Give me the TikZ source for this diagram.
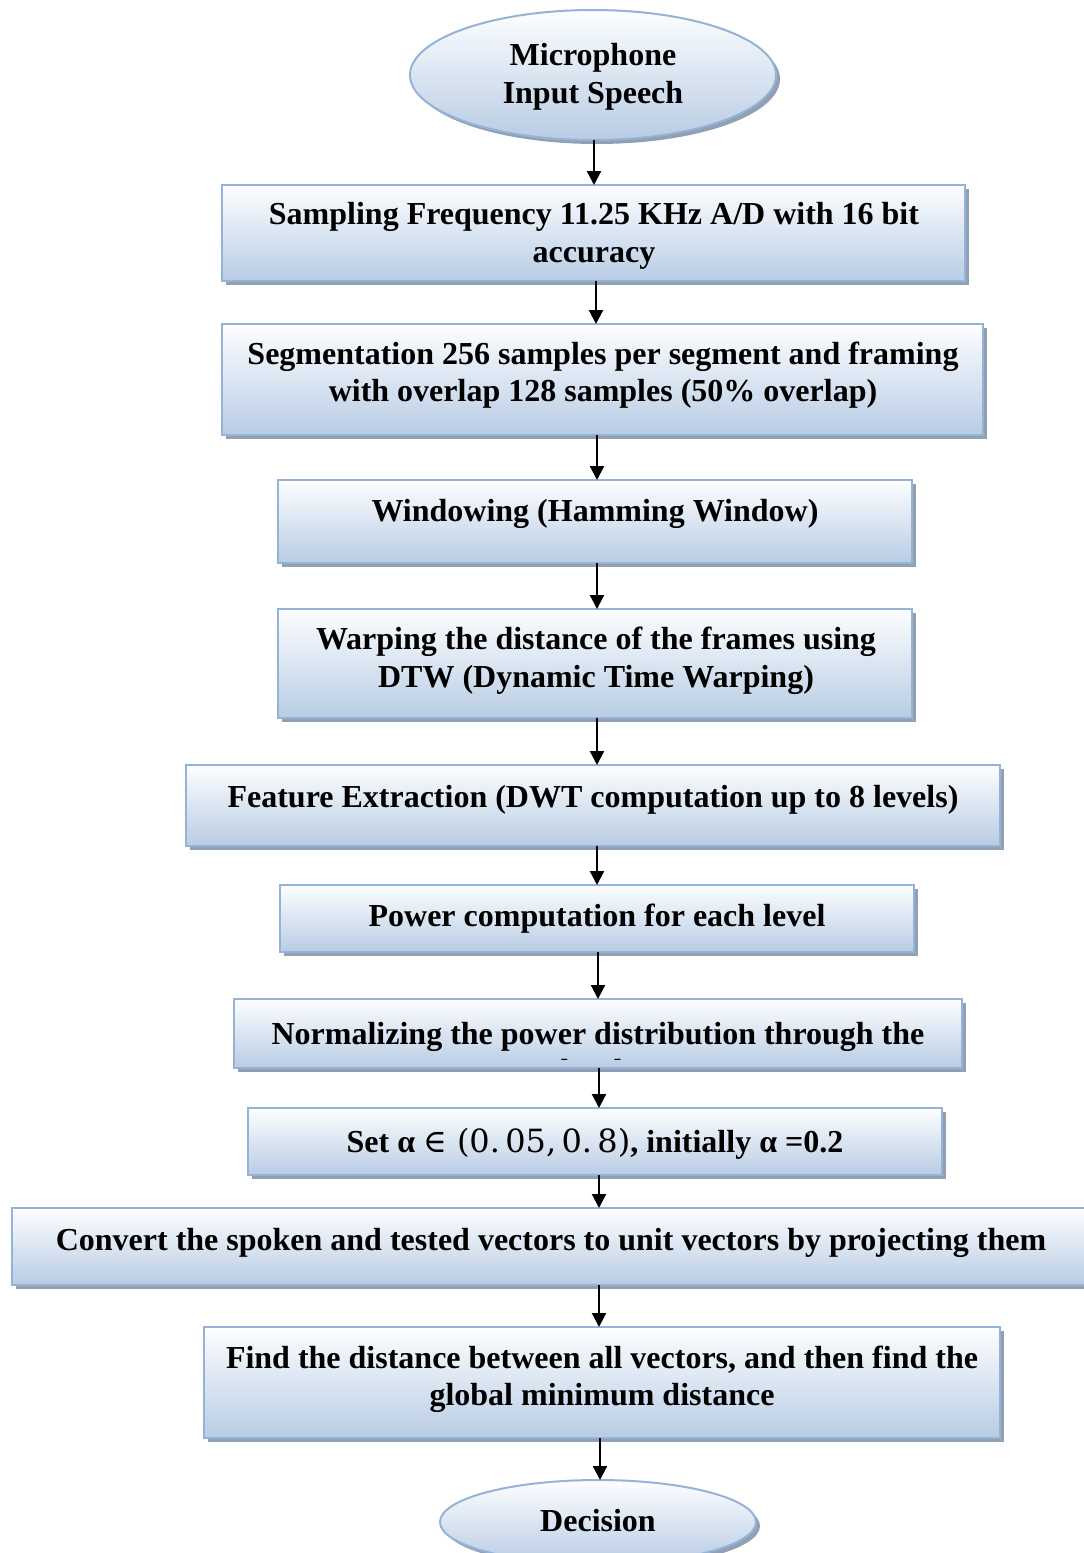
\documentclass[tikz,border=0pt]{standalone}
\usepackage{fontspec}
\setmainfont{Liberation Serif}
\newfontfamily\symfont{DejaVu Serif}
\usetikzlibrary{shapes.geometric,shadows,arrows.meta}

\definecolor{boxline}{RGB}{149,179,215}
\definecolor{boxtop}{RGB}{253,254,255}
\definecolor{boxbottom}{RGB}{184,204,228}
\definecolor{boxshadow}{RGB}{146,160,180}

\tikzset{
  stepbox/.style={rectangle, draw=boxline, line width=1pt, top color=boxtop,
    bottom color=boxbottom, inner sep=0pt, outer sep=0pt,
    general shadow={shadow xshift=2pt, shadow yshift=-2pt, fill=boxshadow}},
  termbox/.style={stepbox, ellipse},
  txt/.style={font=\fontsize{16}{18.75}\selectfont\bfseries, align=center,
    inner sep=0pt, text=black},
  arr/.style={line width=1.1pt, -{Triangle[length=7pt,width=7pt]}}
}

\begin{document}
\begin{tikzpicture}[x=0.5pt,y=-0.5pt]
\useasboundingbox (0,0) rectangle (1083,1553);

% process boxes and terminals
\node[termbox, minimum width=183pt, minimum height=65pt] (b1) at (593,75) {};
\node[stepbox, minimum width=371.5pt, minimum height=48pt] (b2) at (593.5,233) {};
\node[stepbox, minimum width=380.5pt, minimum height=55.5pt] (b3) at (602.5,379.5) {};
\node[stepbox, minimum width=317pt, minimum height=41.5pt] (b4) at (595,521.5) {};
\node[stepbox, minimum width=317pt, minimum height=54.5pt] (b5) at (595,663.5) {};
\node[stepbox, minimum width=407pt, minimum height=40.5pt] (b6) at (593,805.5) {};
\node[stepbox, minimum width=317pt, minimum height=33.5pt] (b7) at (597,918.5) {};
\node[stepbox, minimum width=364pt, minimum height=34.5pt] (b8) at (598,1033.5) {};
\node[stepbox, minimum width=347pt, minimum height=33.5pt] (b9) at (595,1141.5) {};
\node[stepbox, minimum width=541pt, minimum height=38.5pt] (b10) at (553,1246.5) {};
\node[stepbox, minimum width=398pt, minimum height=55.5pt] (b11) at (602,1382.5) {};
\node[termbox, minimum width=158pt, minimum height=42pt] (b12) at (598,1522) {};

% labels
\node[txt] (t1) at (593,77) {Microphone\\Input Speech};
\node[txt] (t2) at (594,236) {Sampling Frequency 11.25 KHz A/D with 16 bit\\accuracy};
\node[txt] (t3) at (603,375) {Segmentation 256 samples per segment and framing\\with overlap 128 samples (50\% overlap)};
\node[txt] (t4) at (595,514) {Windowing (Hamming Window)};
\node[txt] (t5) at (596,661) {Warping the distance of the frames using\\DTW (Dynamic Time Warping)};
\node[txt] (t6) at (593,800) {Feature Extraction (DWT computation up to 8 levels)};
\node[txt] (t7) at (597,919) {Power computation for each level};
\begin{scope}
  % text that overflows the box is cut at the inner margin
  \clip ([yshift=4.5pt]b8.south west) rectangle (b8.north east);
  \node[txt] (t8) at (598,1052) {Normalizing the power distribution through the\\levels};
\end{scope}
\node[txt] (t9) at (595,1144) {Set α {\symfont\mdseries∈ (0.\,05,\,0.\,8)}, initially α =0.2};
\node[txt] (t10) at (551,1243) {Convert the spoken and tested vectors to unit vectors by projecting them};
\node[txt] (t11) at (602,1379) {Find the distance between all vectors, and then find the\\global minimum distance};
\node[txt] (t12) at (598,1521) {Decision};

% connector columns
\coordinate (c1) at (594,0);
\coordinate (c2) at (596,0);
\coordinate (c3) at (597,0);
\coordinate (c4) at (597,0);
\coordinate (c5) at (597,0);
\coordinate (c6) at (597,0);
\coordinate (c7) at (598,0);
\coordinate (c8) at (599,0);
\coordinate (c9) at (599,0);
\coordinate (c10) at (599,0);
\coordinate (c11) at (600,0);

\draw[arr] (b1.south -| c1) -- (b2.north -| c1);
\draw[arr] (b2.south -| c2) -- (b3.north -| c2);
\draw[arr] (b3.south -| c3) -- (b4.north -| c3);
\draw[arr] (b4.south -| c4) -- (b5.north -| c4);
\draw[arr] (b5.south -| c5) -- (b6.north -| c5);
\draw[arr] (b6.south -| c6) -- (b7.north -| c6);
\draw[arr] (b7.south -| c7) -- (b8.north -| c7);
\draw[arr] (b8.south -| c8) -- (b9.north -| c8);
\draw[arr] (b9.south -| c9) -- (b10.north -| c9);
\draw[arr] (b10.south -| c10) -- (b11.north -| c10);
\draw[arr] (b11.south -| c11) -- (b12.north -| c11);
\end{tikzpicture}
\end{document}
